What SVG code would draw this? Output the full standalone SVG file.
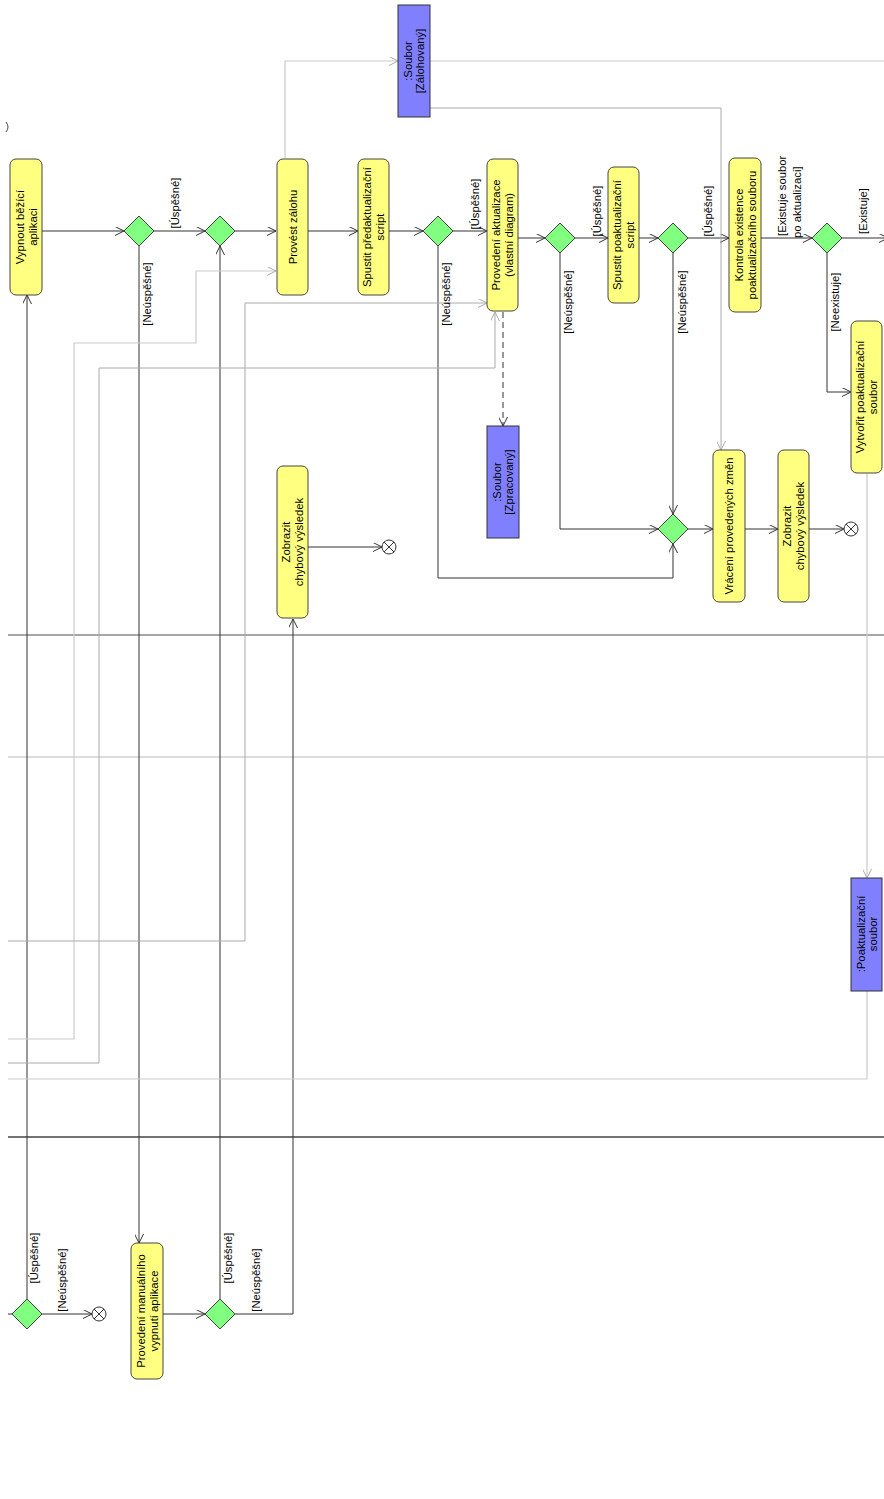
<svg xmlns="http://www.w3.org/2000/svg" width="884" height="1499" viewBox="0 0 884 1499">
<style>
text{font-family:"Liberation Sans",Arial,sans-serif;font-size:11.3px;fill:#000;text-anchor:middle;dominant-baseline:central}
.act{fill:#FFFF80;stroke:#444;stroke-width:1}
.obj{fill:#8080FF;stroke:#333;stroke-width:1}
.dec{fill:#80FF80;stroke:#444;stroke-width:1}
.cf{fill:none;stroke:#333;stroke-width:1}
.of{fill:none;stroke:#aaa;stroke-width:1}
.ofl{fill:none;stroke:#ccc;stroke-width:1.2}
.end{fill:#fff;stroke:#333;stroke-width:1}
</style>
<defs>
<marker id="a" viewBox="0 0 10 10" refX="10" refY="5" markerWidth="9" markerHeight="9" orient="auto" markerUnits="userSpaceOnUse"><path d="M0,0 L10,5 L0,10" fill="none" stroke="#333" stroke-width="1.1"/></marker>
<marker id="g" viewBox="0 0 10 10" refX="10" refY="5" markerWidth="9" markerHeight="9" orient="auto" markerUnits="userSpaceOnUse"><path d="M0,0 L10,5 L0,10" fill="none" stroke="#aaa" stroke-width="1.1"/></marker>
</defs>
<rect width="884" height="1499" fill="#fff"/>
<g id="lanes">
<path d="M8,635 H884" stroke="#888" stroke-width="1.5" fill="none"/>
<path d="M8,757 H884" stroke="#bbb" stroke-width="1" fill="none"/>
<path d="M8,1137 H884" stroke="#444" stroke-width="1.3" fill="none"/>
<path d="M6,122 Q10,127 6,132" stroke="#444" fill="none"/>
</g>
<g id="connectors">
<path class="cf" d="M42,231 H124" marker-end="url(#a)"/>
<path class="cf" d="M154,231 H205" marker-end="url(#a)"/>
<path class="cf" d="M139,246 V1243" marker-end="url(#a)"/>
<path class="cf" d="M235,231 H276" marker-end="url(#a)"/>
<path class="cf" d="M220,1299 V246" marker-end="url(#a)"/>
<path class="cf" d="M308,231 H358" marker-end="url(#a)"/>
<path class="cf" d="M389,231 H423" marker-end="url(#a)"/>
<path class="cf" d="M453,231 H487" marker-end="url(#a)"/>
<path class="cf" d="M438,246 V578 H673 V544" marker-end="url(#a)"/>
<path class="cf" d="M518,238 H545" marker-end="url(#a)"/>
<path class="cf" d="M575,238 H608" marker-end="url(#a)"/>
<path class="cf" d="M560,253 V529 H658" marker-end="url(#a)"/>
<path class="cf" d="M639,238 H658" marker-end="url(#a)"/>
<path class="cf" d="M688,238 H729" marker-end="url(#a)"/>
<path class="cf" d="M673,253 V514" marker-end="url(#a)"/>
<path class="cf" d="M761,238 H812" marker-end="url(#a)"/>
<path class="cf" d="M842,238 H888" marker-end="url(#a)"/>
<path class="cf" d="M827,253 V392 H851" marker-end="url(#a)"/>
<path class="cf" d="M688,529 H713" marker-end="url(#a)"/>
<path class="cf" d="M745,529 H778" marker-end="url(#a)"/>
<path class="cf" d="M809,529 H844" marker-end="url(#a)"/>
<path class="cf" d="M27,1299 V295" marker-end="url(#a)"/>
<path class="cf" d="M42,1314 H92" marker-end="url(#a)"/>
<path class="cf" d="M8,1314 H12"/>
<path class="cf" d="M163,1314 H205" marker-end="url(#a)"/>
<path class="cf" d="M235,1314 H293 V619" marker-end="url(#a)"/>
<path class="cf" d="M308,547 H382" marker-end="url(#a)"/>
<path class="cf" d="M503,312 V426" stroke-dasharray="6,4" marker-end="url(#a)"/>
<path class="ofl" d="M285,158 V61 H398" marker-end="url(#g)"/>
<path class="ofl" d="M430,61 H884"/>
<path class="of" d="M430,108 H721 V450" marker-end="url(#g)"/>
<path class="ofl" d="M867,473 V878" marker-end="url(#g)"/>
<path class="ofl" d="M867,991 V1079 H8"/>
<path class="ofl" d="M8,1039 H74 V343 H196 V271 H276" marker-end="url(#g)"/>
<path class="of" d="M8,1063 H99 V368 H495 V312" marker-end="url(#g)"/>
<path class="of" d="M8,941 H245 V303 H487" marker-end="url(#g)"/>
</g>
<g id="guards">
<text transform="translate(175,203) rotate(-90)">[Úspěšné]</text>
<text transform="translate(147,294) rotate(-90)">[Neúspěšné]</text>
<text transform="translate(475,204) rotate(-90)">[Úspěšné]</text>
<text transform="translate(446,294) rotate(-90)">[Neúspěšné]</text>
<text transform="translate(597,211) rotate(-90)">[Úspěšné]</text>
<text transform="translate(568,302) rotate(-90)">[Neúspěšné]</text>
<text transform="translate(708,211) rotate(-90)">[Úspěšné]</text>
<text transform="translate(682,302) rotate(-90)">[Neúspěšné]</text>
<text transform="translate(782,236) rotate(-90)" style="text-anchor:start">[Existuje soubor</text>
<text transform="translate(797,238) rotate(-90)" style="text-anchor:start">po aktualizaci]</text>
<text transform="translate(863,211) rotate(-90)">[Existuje]</text>
<text transform="translate(835,302) rotate(-90)">[Neexistuje]</text>
<text transform="translate(34,1258) rotate(-90)">[Úspěšné]</text>
<text transform="translate(62,1280) rotate(-90)">[Neúspěšné]</text>
<text transform="translate(228,1258) rotate(-90)">[Úspěšné]</text>
<text transform="translate(256,1280) rotate(-90)">[Neúspěšné]</text>
</g>
<g id="n-vypnout">
<rect class="act" x="10" y="159" width="32" height="136" rx="6"/>
<text transform="translate(26,227) rotate(-90)"><tspan x="0" y="-6.5">Vypnout běžící</tspan><tspan x="0" y="6.5">aplikaci</tspan></text>
</g>
<g id="d1"><polygon class="dec" points="139,216 154,231 139,246 124,231"/></g>
<g id="d2"><polygon class="dec" points="220,216 235,231 220,246 205,231"/></g>
<g id="n-zaloha">
<rect class="act" x="277" y="159" width="31" height="136" rx="6"/>
<text transform="translate(292.5,227) rotate(-90)">Provést zálohu</text>
</g>
<g id="n-preakt">
<rect class="act" x="358" y="159" width="31" height="136" rx="6"/>
<text transform="translate(373.5,227) rotate(-90)"><tspan x="0" y="-6.5">Spustit předaktualizační</tspan><tspan x="0" y="6.5">script</tspan></text>
</g>
<g id="d3"><polygon class="dec" points="438,216 453,231 438,246 423,231"/></g>
<g id="n-aktualizace">
<rect class="act" x="487" y="159" width="31" height="152" rx="6"/>
<text transform="translate(502.5,235) rotate(-90)"><tspan x="0" y="-6.5">Provedení aktualizace</tspan><tspan x="0" y="6.5">(vlastní diagram)</tspan></text>
</g>
<g id="d4"><polygon class="dec" points="560,223 575,238 560,253 545,238"/></g>
<g id="n-postakt">
<rect class="act" x="608" y="167" width="31" height="136" rx="6"/>
<text transform="translate(623.5,235) rotate(-90)"><tspan x="0" y="-6.5">Spustit poaktualizační</tspan><tspan x="0" y="6.5">script</tspan></text>
</g>
<g id="d5"><polygon class="dec" points="673,223 688,238 673,253 658,238"/></g>
<g id="n-kontrola">
<rect class="act" x="729" y="158" width="32" height="154" rx="6"/>
<text transform="translate(745,235) rotate(-90)"><tspan x="0" y="-6.5">Kontrola existence</tspan><tspan x="0" y="6.5">poaktualizačního souboru</tspan></text>
</g>
<g id="d6"><polygon class="dec" points="827,223 842,238 827,253 812,238"/></g>
<g id="n-vytvorit">
<rect class="act" x="851" y="321" width="31" height="152" rx="6"/>
<text transform="translate(866.5,397) rotate(-90)"><tspan x="0" y="-6.5">Vytvořit poaktualizační</tspan><tspan x="0" y="6.5">soubor</tspan></text>
</g>
<g id="d7"><polygon class="dec" points="673,514 688,529 673,544 658,529"/></g>
<g id="n-vraceni">
<rect class="act" x="713" y="450" width="32" height="152" rx="6"/>
<text transform="translate(729,526) rotate(-90)">Vrácení provedených změn</text>
</g>
<g id="n-chyba2">
<rect class="act" x="778" y="450" width="31" height="152" rx="6"/>
<text transform="translate(793.5,526) rotate(-90)"><tspan x="0" y="-6.5">Zobrazit</tspan><tspan x="0" y="6.5">chybový výsledek</tspan></text>
</g>
<g id="end2"><circle class="end" cx="851" cy="529" r="7"/><path d="M846,524 L856,534 M856,524 L846,534" stroke="#333"/></g>
<g id="o-zalohovany">
<rect class="obj" x="398" y="5" width="32" height="112"/>
<text transform="translate(414,61) rotate(-90)"><tspan x="0" y="-6">:Soubor</tspan><tspan x="0" y="6">[Zálohovaný]</tspan></text>
</g>
<g id="o-zpracovany">
<rect class="obj" x="487" y="426" width="32" height="112"/>
<text transform="translate(503,482) rotate(-90)"><tspan x="0" y="-6">:Soubor</tspan><tspan x="0" y="6">[Zpracovaný]</tspan></text>
</g>
<g id="o-poakt">
<rect class="obj" x="851" y="878" width="31" height="113"/>
<text transform="translate(866.5,934) rotate(-90)"><tspan x="0" y="-6">:Poaktualizační</tspan><tspan x="0" y="6">soubor</tspan></text>
</g>
<g id="n-chyba1">
<rect class="act" x="277" y="466" width="31" height="152" rx="6"/>
<text transform="translate(292.5,542) rotate(-90)"><tspan x="0" y="-6.5">Zobrazit</tspan><tspan x="0" y="6.5">chybový výsledek</tspan></text>
</g>
<g id="end1"><circle class="end" cx="389" cy="547" r="7"/><path d="M384,542 L394,552 M394,542 L384,552" stroke="#333"/></g>
<g id="dA"><polygon class="dec" points="27,1299 42,1314 27,1329 12,1314"/></g>
<g id="end3"><circle class="end" cx="99" cy="1314" r="7"/><path d="M94,1309 L104,1319 M104,1309 L94,1319" stroke="#333"/></g>
<g id="n-manual">
<rect class="act" x="131" y="1243" width="32" height="136" rx="6"/>
<text transform="translate(147,1311) rotate(-90)"><tspan x="0" y="-6.5">Provedení manuálního</tspan><tspan x="0" y="6.5">vypnutí aplikace</tspan></text>
</g>
<g id="dB"><polygon class="dec" points="220,1299 235,1314 220,1329 205,1314"/></g>
</svg>
